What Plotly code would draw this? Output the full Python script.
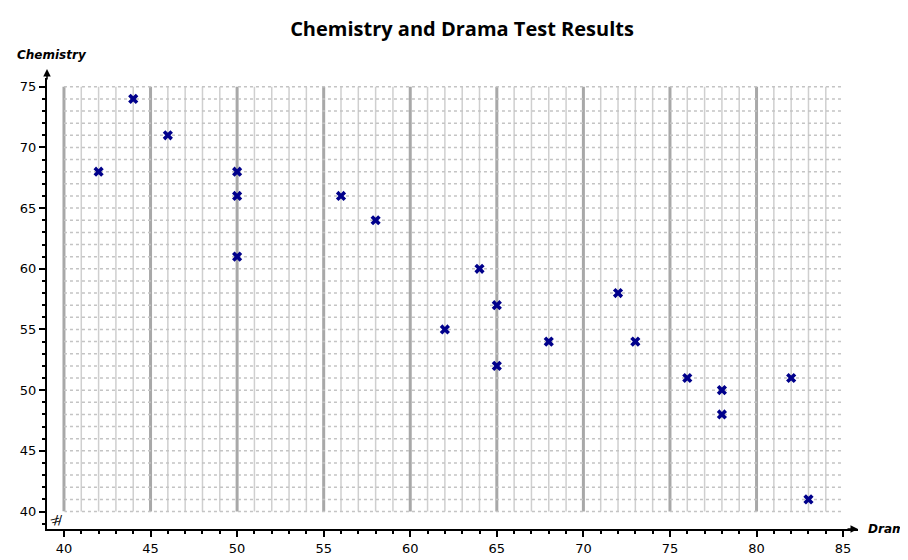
import plotly.graph_objects as go

drama = [42, 44, 46, 50, 50, 50, 56, 58, 62, 64, 65, 65, 68, 72, 73, 76, 78, 78, 82, 83]
chemistry = [68, 74, 71, 68, 66, 61, 66, 64, 55, 60, 57, 52, 54, 58, 54, 51, 50, 48, 51, 41]
x_ticks = [40, 45, 50, 55, 60, 65, 70, 75, 80, 85]
y_ticks = [40, 45, 50, 55, 60, 65, 70, 75]

fig = go.Figure()

# grid, drawn as shapes so it stops at the data frame
shapes = []
for v in range(40, 85):
    major = v % 5 == 0
    shapes.append(dict(type="line", xref="x", yref="y", x0=v, x1=v, y0=40, y1=75,
                       line=dict(color="#a8a8a8" if major else "#cfcfcf", width=3 if major else 1.5), layer="below"))
for v in range(40, 76):
    shapes.append(dict(type="line", xref="x", yref="y", x0=40, x1=85, y0=v, y1=v,
                       line=dict(color="#c4c4c4", width=1.5, dash="dot"), layer="below"))
fig.update_layout(shapes=shapes)

fig.add_trace(go.Scatter(x=drama, y=chemistry, mode="markers",
                         marker=dict(symbol="x", size=9, color="#00008b", line=dict(width=0)),
                         hoverinfo="x+y"))

axis_font = dict(family="DejaVu Sans", size=13, color="black")
fig.update_xaxes(range=[39.02, 85.86], tickvals=x_ticks, showgrid=False, zeroline=False,
                 showline=True, linecolor="black", linewidth=2, ticks="outside", ticklen=6,
                 tickwidth=2, tickcolor="black", tickfont=axis_font,
                 minor=dict(dtick=1, ticks="outside", ticklen=3, tickwidth=2, tickcolor="black"))
fig.update_yaxes(range=[38.56, 75.72], tickvals=y_ticks, showgrid=False, zeroline=False,
                 showline=True, linecolor="black", linewidth=2, ticks="outside", ticklen=6,
                 tickwidth=2, tickcolor="black", tickfont=axis_font,
                 minor=dict(dtick=1, ticks="outside", ticklen=3, tickwidth=2, tickcolor="black"))

fig.update_layout(
    width=908, height=560, showlegend=False,
    margin=dict(l=35, r=58, t=70, b=25),
    plot_bgcolor="white", paper_bgcolor="white",
    title=dict(text="<b>Chemistry and Drama Test Results</b>", x=0.5, xanchor="center", y=0.975,
               font=dict(family="Open Sans", size=20, color="black")),
    annotations=[
        dict(text="<b><i>Chemistry</i></b>", xref="paper", yref="paper", x=-0.04, y=1.03,
             xanchor="left", yanchor="bottom", showarrow=False,
             font=dict(family="DejaVu Sans", size=12, color="black")),
        dict(text="<b><i>Drama</i></b>", xref="paper", yref="paper", x=1.01, y=0,
             xanchor="left", yanchor="middle", showarrow=False,
             font=dict(family="DejaVu Sans", size=12, color="black")),
        # axis arrows
        dict(xref="paper", yref="paper", x=0, y=1.02, ax=0, ay=12,
             showarrow=True, arrowhead=2, arrowsize=1, arrowwidth=1.5, arrowcolor="black", text=""),
        dict(xref="paper", yref="paper", x=1.0, y=0, ax=-12, ay=0,
             showarrow=True, arrowhead=2, arrowsize=1, arrowwidth=1.5, arrowcolor="black", text=""),
        # axis break marks
        dict(text="//", xref="x", yref="paper", x=39.7, y=0, showarrow=False,
             font=dict(family="DejaVu Sans", size=12, color="black"), bgcolor="white"),
        dict(text="//", xref="paper", yref="y", x=0, y=39.3, showarrow=False, textangle=60,
             font=dict(family="DejaVu Sans", size=10, color="black")),
    ],
)

fig.write_html("out.html")
